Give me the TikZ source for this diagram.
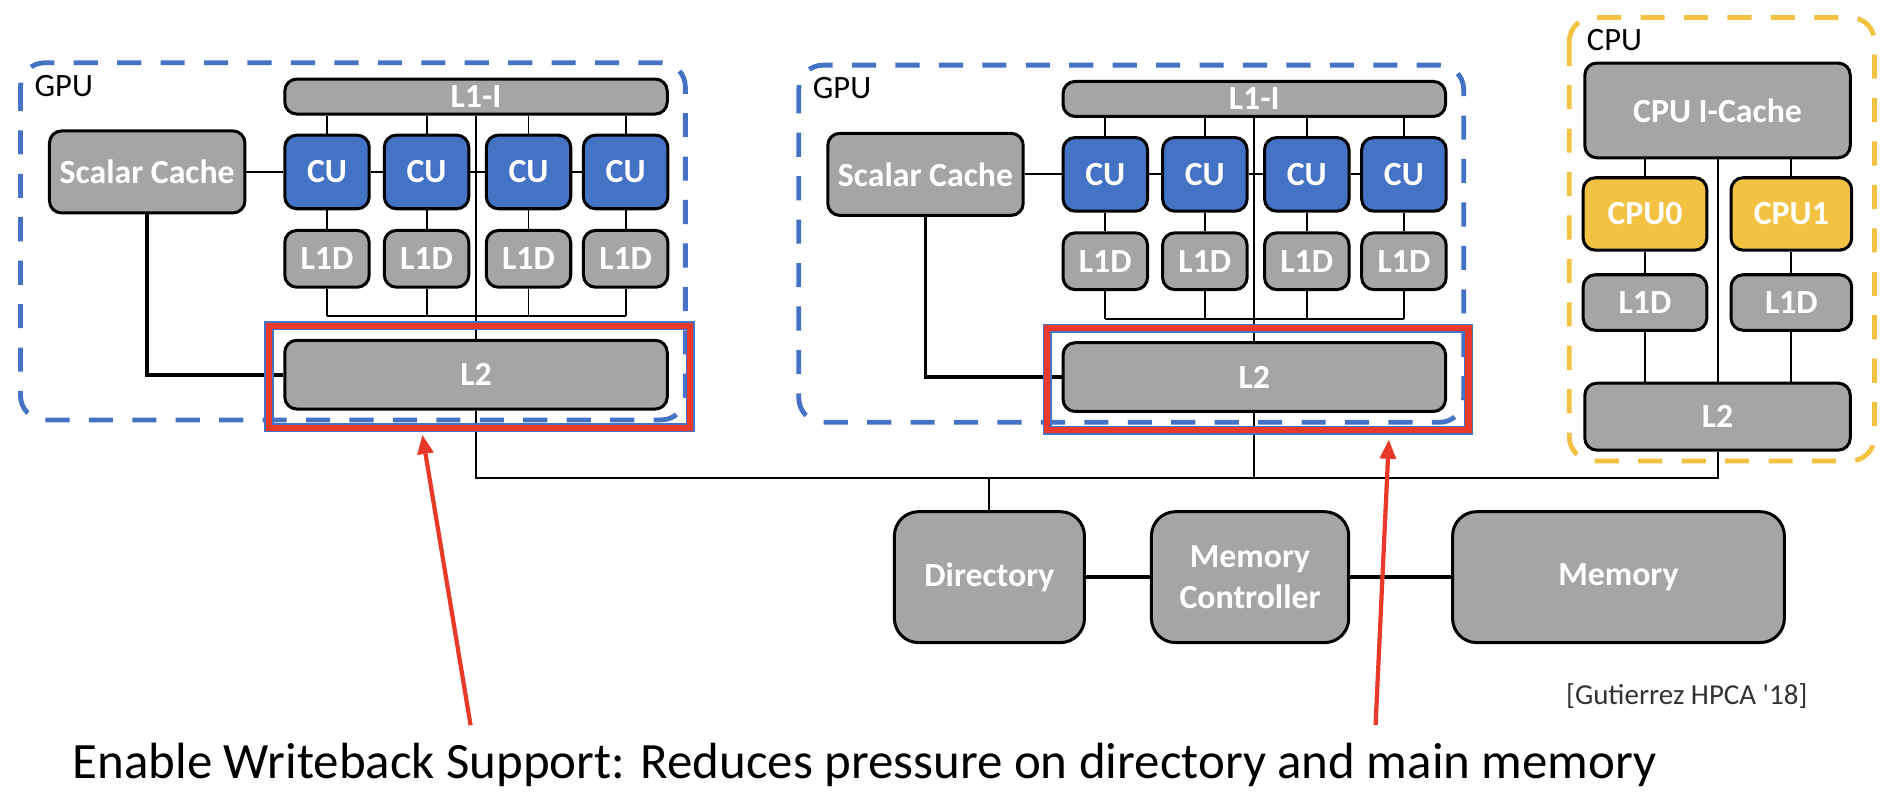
\documentclass[tikz,border=0pt]{standalone}
\usepackage{fontspec}
\setmainfont{Carlito}
\usetikzlibrary{arrows.meta}

\definecolor{boxgray}{HTML}{A5A5A5}
\definecolor{cublue}{HTML}{4472C4}
\definecolor{cpugold}{HTML}{F4C242}
\definecolor{wbred}{HTML}{E8392B}

\tikzset{
  box/.style={draw=black, line width=2.5pt, fill=boxgray, rounded corners=10pt,
    inner sep=0pt, text=white, align=center,
    font=\fontsize{28}{34.5}\selectfont\bfseries},
  cubox/.style={box, fill=cublue},
  cpubox/.style={box, fill=cpugold},
  bigbox/.style={box, rounded corners=20pt},
  link/.style={line width=1.6pt},
  thicklink/.style={line width=3.2pt},
  gpuframe/.style={draw=cublue, line width=4pt, dash pattern=on 20pt off 16pt, rounded corners=20pt},
  cpuframe/.style={gpuframe, draw=cpugold},
  wbframe/.style={draw=cublue, line width=1.3pt, double=wbred, double distance=5pt,
    inner sep=0pt, minimum width=349, minimum height=84.6},
  grplabel/.style={anchor=west, inner sep=0pt, font=\fontsize{27}{30}\selectfont},
  redarrow/.style={draw=wbred, line width=3.5pt, -{Triangle[length=16pt,width=13pt]}}
}

\begin{document}
\begin{tikzpicture}[x=1pt,y=-1pt]
  \useasboundingbox (0,0) rectangle (1568,669.6);

  % two GPUs
  \foreach \g/\dx/\dy in {a/0/0, b/645/2}
  {
    \begin{scope}[shift={(\dx,\dy)}]
      \draw [gpuframe] (17,52) rectangle (568,348);
      \node [grplabel] (gpu\g) at (28.5,71) {GPU};

      \node [box, minimum width=317, minimum height=29] (l1i\g) at (394.5,80) {L1-I};
      \node [box, minimum width=162, minimum height=68] (sc\g) at (122,142.5) {Scalar Cache};
      \foreach \i/\x in {1/271,2/353.5,3/438,4/518.5}
      {
        \node [cubox, minimum width=70, minimum height=61] (cu\g\i) at (\x,142.5) {CU};
        \node [box, minimum width=70, minimum height=47] (l1d\g\i) at (\x,214.5) {L1D};
      }
      \node [box, minimum width=317, minimum height=57] (l2\g) at (394.5,310.5) {L2};
      \coordinate (bus\g) at (0,262);

      \foreach \i in {1,...,4}
      {
        \draw [link] (l1i\g.south -| cu\g\i) -- (cu\g\i);
        \draw [link] (cu\g\i) -- (l1d\g\i);
        \draw [link] (l1d\g\i) -- (l1d\g\i.south |- bus\g);
      }
      \draw [link] (l1d\g1.south |- bus\g) -- (l1d\g4.south |- bus\g);
      \draw [link] (l1i\g) -- (l2\g);
      \draw [link] (sc\g) -- (cu\g1);
      \draw [link] (cu\g1) -- (cu\g2);
      \draw [link] (cu\g2) -- (cu\g3);
      \draw [link] (cu\g3) -- (cu\g4);
      \draw [thicklink] (sc\g) |- (l2\g);
    \end{scope}
  }

  % CPU
  \draw [cpuframe] (1300.5,14.5) rectangle (1553.5,382);
  \node [grplabel] (cpu) at (1315,33) {CPU};
  \node [box, minimum width=220, minimum height=78.5] (cpuic) at (1423.4,91.5) {CPU I-Cache};
  \node [cpubox, minimum width=102.5, minimum height=60] (cpu0) at (1363.3,177.3) {CPU0};
  \node [cpubox, minimum width=100, minimum height=60] (cpu1) at (1484.6,177.3) {CPU1};
  \node [box, minimum width=102.5, minimum height=46] (cl1d0) at (1363.3,250.7) {L1D};
  \node [box, minimum width=100, minimum height=46] (cl1d1) at (1484.6,250.7) {L1D};
  \node [box, minimum width=220, minimum height=55.5] (cpul2) at (1423.4,345.3) {L2};

  \draw [link] (cpuic.south -| cpu0) -- (cpu0);
  \draw [link] (cpuic.south -| cpu1) -- (cpu1);
  \draw [link] (cpu0) -- (cl1d0);
  \draw [link] (cpu1) -- (cl1d1);
  \draw [link] (cl1d0) -- (cl1d0 |- cpul2.north);
  \draw [link] (cl1d1) -- (cl1d1 |- cpul2.north);
  \draw [link] (cpuic) -- (cpul2);

  % directory and memory
  \node [bigbox, minimum width=157.5, minimum height=108.5] (dir) at (820,478.3) {Directory};
  \node [bigbox, minimum width=163.5, minimum height=108.5] (mc) at (1036,478.3) {Memory\\Controller};
  \node [bigbox, minimum width=275, minimum height=108.5] (mem) at (1341.3,478.3) {Memory};
  \draw [thicklink] (dir) -- (mc);
  \draw [thicklink] (mc) -- (mem);

  \coordinate (net) at (0,396);
  \draw [link] (l2a) -- (l2a.south |- net) -| (cpul2);
  \draw [link] (l2b) -- (l2b.south |- net);
  \draw [link] (dir) -- (dir.north |- net);

  % writeback L2s
  \node [wbframe] (wba) at (397.5,312.3) {};
  \node [wbframe] (wbb) at (1042.5,314.3) {};

  \coordinate (taila) at (390,601);
  \coordinate (tailb) at (1140,601);
  \coordinate (tipa) at ([xshift=-47.5pt,yshift=-5pt]wba.south);
  \coordinate (tipb) at ([xshift=108.5pt,yshift=-7pt]wbb.south);
  \draw [redarrow] (taila) -- (tipa);
  \draw [redarrow] (tailb) -- (tipb);

  \node [anchor=east, inner sep=0pt, text=black!80, font=\fontsize{24}{28}\selectfont]
    (cite) at (1498,577) {[Gutierrez HPCA \textquotesingle18]};
  \node [anchor=base west, inner sep=0pt, font=\fontsize{42.2}{48}\selectfont]
    (note) at (60,645) {Enable Writeback Support: Reduces pressure on directory and main memory};
\end{tikzpicture}
\end{document}
